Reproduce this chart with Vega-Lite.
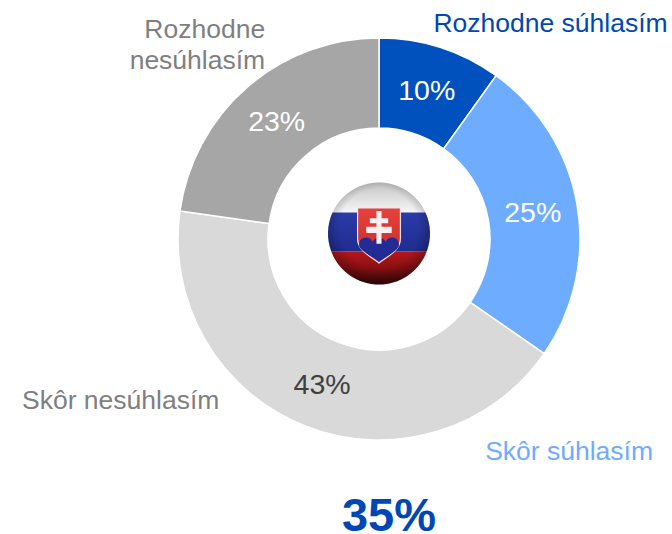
{
"$schema":"https://vega.github.io/schema/vega-lite/v6.json",
"width":402,"height":402,
"autosize":{"type":"none"},
"padding":{"left":178,"top":38,"right":92,"bottom":94},
"background":"white",
"view":{"stroke":null},
"config":{"font":"Liberation Sans"},
"title":{"text":"35%","orient":"bottom","anchor":"middle","dx":10,"offset":29,"fontSize":47,"fontWeight":"bold","color":"#0047B6","font":"Liberation Sans"},
"data":{"values":[
{"kategoria":"Rozhodne súhlasím","hodnota":10,"poradie":1,"percenta":"10%"},
{"kategoria":"Skôr súhlasím","hodnota":25,"poradie":2,"percenta":"25%"},
{"kategoria":"Skôr nesúhlasím","hodnota":43,"poradie":3,"percenta":"43%"},
{"kategoria":"Rozhodne nesúhlasím","hodnota":23,"poradie":4,"percenta":"23%"}
]},
"transform":[{"stack":"hodnota","sort":[{"field":"poradie","order":"ascending"}],"as":["v0","v1"]},{"calculate":"(datum.v0+datum.v1)/2","as":"stred"}],
"layer":[
{"mark":{"type":"arc","innerRadius":111,"outerRadius":201,"stroke":"white","strokeWidth":1.5},
 "encoding":{"theta":{"field":"v0","type":"quantitative","scale":{"domain":[0,101]}},"theta2":{"field":"v1"},
 "color":{"field":"kategoria","type":"nominal","legend":null,"scale":{"domain":["Rozhodne súhlasím","Skôr súhlasím","Skôr nesúhlasím","Rozhodne nesúhlasím"],"range":["#0050BE","#6EACFF","#D9D9D9","#A6A6A6"]}}}},
{"mark":{"type":"text","radius":156,"fontSize":28.5,"align":"center","baseline":"middle","dy":1},
 "encoding":{"theta":{"field":"stred","type":"quantitative","scale":{"domain":[0,101]}},"text":{"field":"percenta"},
 "color":{"condition":{"test":"datum.kategoria==='Skôr nesúhlasím'","value":"#404040"},"value":"#FFFFFF"}}},
{"transform":[{"filter":"datum.poradie===1"}],
 "mark":{"type":"text","radius":201,"fontSize":26.5,"align":"center","baseline":"middle","dx":110,"dy":-24,"color":"#0047B6"},
 "encoding":{"theta":{"field":"stred","type":"quantitative","scale":{"domain":[0,101]}},"text":{"field":"kategoria"}}},
{"transform":[{"filter":"datum.poradie===2"}],
 "mark":{"type":"text","radius":201,"fontSize":26.5,"align":"center","baseline":"middle","dx":-8,"dy":247,"color":"#6EACFF"},
 "encoding":{"theta":{"field":"stred","type":"quantitative","scale":{"domain":[0,101]}},"text":{"field":"kategoria"}}},
{"transform":[{"filter":"datum.poradie===3"}],
 "mark":{"type":"text","radius":201,"fontSize":26.5,"align":"center","baseline":"middle","dx":-185,"dy":-25,"color":"#7F7F7F"},
 "encoding":{"theta":{"field":"stred","type":"quantitative","scale":{"domain":[0,101]}},"text":{"field":"kategoria"}}},
{"transform":[{"filter":"datum.poradie===4"}],
 "mark":{"type":"text","radius":201,"fontSize":26.5,"align":"right","baseline":"middle","dx":18,"dy":-57,"lineHeight":31,"color":"#7F7F7F"},
 "encoding":{"theta":{"field":"stred","type":"quantitative","scale":{"domain":[0,101]}},"text":{"value":["Rozhodne","nesúhlasím"]}}},
{"data":{"values":[{"vlajka":"Slovensko"}]},"mark":{"type":"point","filled":true,"opacity":1,"size":10404,"yOffset":-5.5,"shape":"M-0.912 -0.41 A1 1 0 0 1 0.912 -0.41 Z","fill":{"x1":0,"y1":0,"x2":0,"y2":1,"gradient":"linear","stops":[{"offset":0,"color":"#C4C4C4"},{"offset":1,"color":"#F6F6F6"}]}},"encoding":{}},
{"data":{"values":[{"vlajka":"Slovensko"}]},"mark":{"type":"point","filled":true,"opacity":1,"size":10404,"yOffset":-5.5,"shape":"M-0.912 -0.41 L0.912 -0.41 A1 1 0 0 1 0.937 0.35 L-0.937 0.35 A1 1 0 0 1 -0.912 -0.41 Z","fill":{"x1":0,"y1":0,"x2":0,"y2":1,"gradient":"linear","stops":[{"offset":0,"color":"#2B3BA8"},{"offset":1,"color":"#1F2C90"}]}},"encoding":{}},
{"data":{"values":[{"vlajka":"Slovensko"}]},"mark":{"type":"point","filled":true,"opacity":1,"size":10404,"yOffset":-5.5,"shape":"M-0.937 0.35 L0.937 0.35 A1 1 0 0 1 -0.937 0.35 Z","fill":{"x1":0,"y1":0,"x2":0,"y2":1,"gradient":"linear","stops":[{"offset":0,"color":"#B5181C"},{"offset":0.5,"color":"#8A1013"},{"offset":1,"color":"#3A0708"}]}},"encoding":{}},
{"data":{"values":[{"vlajka":"Slovensko"}]},"mark":{"type":"point","filled":true,"opacity":1,"size":10404,"yOffset":-5.5,"shape":"M-1 0 A1 1 0 1 1 1 0 A1 1 0 1 1 -1 0 Z","fill":{"x1":0.5,"y1":0.45,"r1":0,"x2":0.5,"y2":0.45,"r2":0.55,"gradient":"radial","stops":[{"offset":0,"color":"rgba(0,0,0,0)"},{"offset":0.7,"color":"rgba(0,0,0,0)"},{"offset":1,"color":"rgba(0,0,0,0.3)"}]}},"encoding":{}},
{"data":{"values":[{"vlajka":"Slovensko"}]},"mark":{"type":"point","filled":true,"opacity":1,"size":10404,"yOffset":-5.5,"shape":"M-0.42 -0.5 L0.42 -0.5 L0.42 0.1 C0.42 0.35 0.15 0.45 0 0.58 C-0.15 0.45 -0.42 0.35 -0.42 0.1 Z","fill":{"x1":0,"y1":0,"x2":0,"y2":1,"gradient":"linear","stops":[{"offset":0,"color":"#E8413C"},{"offset":1,"color":"#C42A2A"}]},"stroke":"#E8E8E8","strokeWidth":1.2},"encoding":{}},
{"data":{"values":[{"vlajka":"Slovensko"}]},"mark":{"type":"point","filled":true,"opacity":1,"size":10404,"yOffset":-5.5,"shape":"M-0.38 0.27 A0.12 0.12 0 0 1 -0.13 0.16 A0.15 0.15 0 0 1 0.13 0.16 A0.12 0.12 0 0 1 0.38 0.27 C0.3 0.38 0.12 0.46 0 0.55 C-0.12 0.46 -0.3 0.38 -0.38 0.27 Z","fill":"#232C96"},"encoding":{}},
{"data":{"values":[{"vlajka":"Slovensko"}]},"mark":{"type":"point","filled":true,"opacity":1,"size":10404,"yOffset":-5.5,"shape":"M-0.05 -0.44 L0.05 -0.44 L0.05 -0.3 L0.18 -0.3 L0.18 -0.2 L0.05 -0.2 L0.05 -0.13 L0.25 -0.13 L0.25 -0.01 L0.05 -0.01 L0.05 0.2 L-0.05 0.2 L-0.05 -0.01 L-0.25 -0.01 L-0.25 -0.13 L-0.05 -0.13 L-0.05 -0.2 L-0.18 -0.2 L-0.18 -0.3 L-0.05 -0.3 Z","fill":"#F8F0F0"},"encoding":{}}
]
}
